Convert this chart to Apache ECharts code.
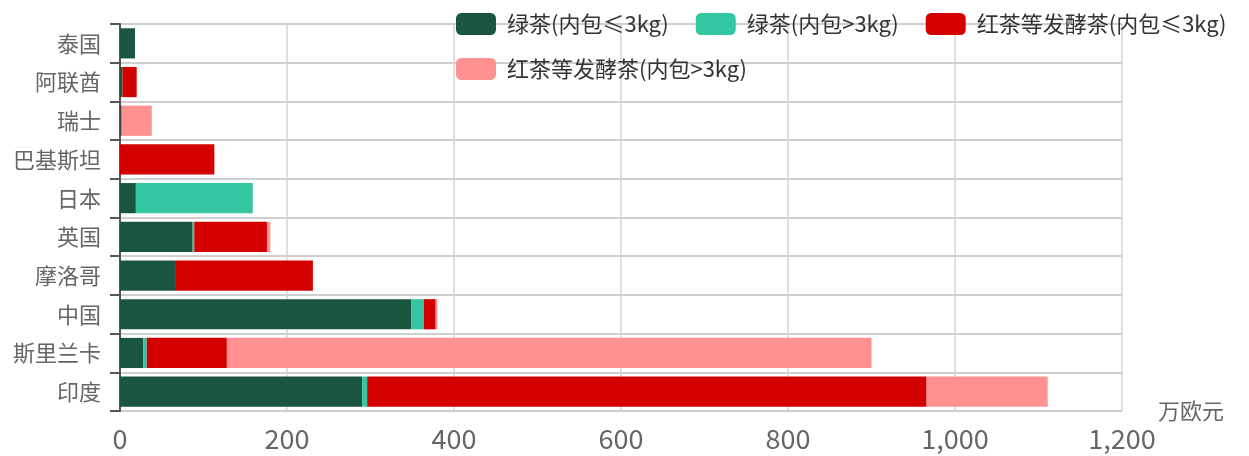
<!DOCTYPE html>
<html>
<head>
<meta charset="utf-8">
<script src="https://cdn.jsdelivr.net/npm/echarts@6/dist/echarts.min.js"></script>
<style>
  html, body { margin: 0; padding: 0; background: #fff; }
  #chart { width: 1249px; height: 456px; }
</style>
</head>
<body>
<div id="chart"></div>
<script>
// 国家（从下到上）
const countries = ['印度', '斯里兰卡', '中国', '摩洛哥', '英国', '日本', '巴基斯坦', '瑞士', '阿联酋', '泰国'];
// 单位：万欧元
const greenSmall = [290, 28, 349, 67, 87, 19, 0, 1, 3, 18];
const greenLarge = [6, 4, 15, 0, 2, 140, 0, 0, 0, 0];
const blackSmall = [670, 96, 14, 164, 87, 0, 113, 1, 17, 0];
const blackLarge = [145, 772, 2, 0, 4, 0, 0, 36, 0, 0];
const seriesNames = ['绿茶(内包≤3kg)', '绿茶(内包>3kg)', '红茶等发酵茶(内包≤3kg)', '红茶等发酵茶(内包>3kg)'];
const xTicks = [0, 200, 400, 600, 800, 1000, 1200];

const font = '"Noto Sans CJK SC", "Noto Sans", sans-serif';
const colors = ['#1a5540', '#33c6a1', '#d40000', '#ff9191'];

const chart = echarts.init(document.getElementById('chart'));
const seriesData = [greenSmall, greenLarge, blackSmall, blackLarge];

chart.setOption({
  animation: false,
  color: colors,
  textStyle: { fontFamily: font },
  grid: { left: 120, right: 127, top: 24, bottom: 45, containLabel: false },
  legend: {
    left: 451,
    top: 8,
    width: 800,
    itemWidth: 40,
    itemHeight: 22,
    itemGap: 23,
    icon: 'roundRect',
    textStyle: { fontSize: 22, lineHeight: 20, color: '#333', fontFamily: font, padding: [0, 4, 0, 6] },
    data: seriesNames
  },
  xAxis: {
    type: 'value',
    min: xTicks[0],
    max: xTicks[xTicks.length - 1],
    interval: 200,
    name: '万欧元',
    nameLocation: 'end',
    nameGap: 36,
    nameTextStyle: { fontSize: 22, color: '#666', fontFamily: font, verticalAlign: 'middle', padding: [0, 0, 2, 0] },
    axisLine: { show: false },
    axisTick: { show: false },
    axisLabel: {
      fontSize: 27, color: '#666', margin: 14,
      formatter: v => v.toLocaleString('en-US')
    },
    splitLine: { show: true, lineStyle: { color: '#d4d4d4', width: 1.5 } }
  },
  yAxis: {
    type: 'category',
    data: countries,
    axisLine: { show: true, lineStyle: { color: '#555', width: 2 } },
    axisTick: { show: true, length: 10, lineStyle: { color: '#555', width: 2 } },
    axisLabel: { fontSize: 22, color: '#666', margin: 19 },
    splitLine: { show: true, lineStyle: { color: '#cfcfcf', width: 2 } }
  },
  series: seriesNames.map((n, i) => ({
    name: n,
    type: 'bar',
    stack: 'total',
    barCategoryGap: '22%',
    data: seriesData[i]
  }))
});
</script>
</body>
</html>
